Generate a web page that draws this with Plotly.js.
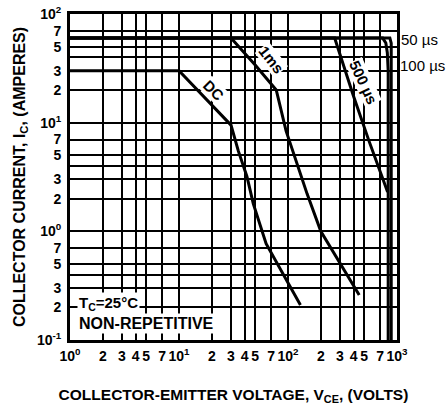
<!DOCTYPE html>
<html>
<head>
<meta charset="utf-8">
<script src="https://cdn.plot.ly/plotly-3.0.1.min.js"></script>
<style>html,body{margin:0;padding:0;background:#fff;}#chart{width:446px;height:405px;}</style>
</head>
<body>
<div id="chart"></div>
<script>
// Safe operating area curves (V_CE in volts, I_C in amperes)
const dcV   = [1, 10, 30, 35, 42, 48, 63, 130];
const dcI   = [30, 30, 9.5, 5.5, 3.2, 1.8, 0.77, 0.21];
const ms1V  = [1, 30, 50, 78, 96, 150, 200, 450];
const ms1I  = [60, 60, 34, 20, 8.4, 2.2, 1.0, 0.26];
const us500V = [1, 268, 398, 553, 820];
const us500I = [60, 60, 17.7, 6.8, 2.3];
const us100V = [1, 740, 790, 815, 830, 830];
const us100I = [60, 60, 54, 44, 30, 0.1];
const us50V  = [1, 860, 885, 885];
const us50I  = [60, 60, 54, 0.1];

const xTickVals = [1,2,3,4,5,7,10,20,30,40,50,70,100,200,300,400,500,700,1000];
const xTickText = ['10<sup>0</sup>','2','3','4','5','7','10<sup>1</sup>','2','3','4','5','7','10<sup>2</sup>','2','3','4','5','7','10<sup>3</sup>'];
const yTickVals = [0.1,0.2,0.3,0.5,0.7,1,2,3,5,7,10,20,30,50,70,100];
const yTickText = ['10<sup>-1</sup>','2','3','5','7','10<sup>0</sup>','2','3','5','7','10<sup>1</sup>','2','3','5','7','10<sup>2</sup>'];
const yMinorVals = [0.4, 4, 40];

const curveNames = ['DC','1ms','500µs','100µs','50µs'];
const curveX = [dcV, ms1V, us500V, us100V, us50V];
const curveY = [dcI, ms1I, us500I, us100I, us50I];

const FONT = 'Liberation Sans, Arial, Helvetica, sans-serif';

const traces = curveX.map((xs, i) => ({
  x: xs, y: curveY[i], name: curveNames[i], type: 'scatter', mode: 'lines',
  line: {color: '#000', width: 3}, hoverinfo: 'skip'
}));

const L = 70, R = 397, T = 14, B = 340;
const px = v => (v - L) / (R - L);
const py = v => (B - v) / (B - T);

const ann = (text, x, y, opts) => Object.assign({
  xref: 'paper', yref: 'paper', x: px(x), y: py(y), text: text, showarrow: false,
  xanchor: 'center', yanchor: 'middle',
  font: {family: FONT, size: 15, color: '#000', weight: 'bold'}
}, opts || {});

const layout = {
  width: 446, height: 405,
  margin: {l: 70, r: 49, t: 14, b: 65},
  paper_bgcolor: '#fff', plot_bgcolor: '#fff',
  showlegend: false,
  font: {family: FONT, color: '#000'},
  xaxis: {
    type: 'log', range: [0, 3], tickmode: 'array', tickvals: xTickVals, ticktext: xTickText,
    showgrid: true, gridcolor: '#000', gridwidth: 2, zeroline: false,
    showline: true, linecolor: '#000', linewidth: 3, mirror: true,
    ticks: '', tickfont: {family: FONT, size: 14, color: '#000', weight: 'bold'},
    ticklabelstandoff: 1,
    title: {text: 'COLLECTOR-EMITTER VOLTAGE, V<sub>CE</sub>, (VOLTS)', font: {family: FONT, size: 15.5, color: '#000', weight: 'bold'}, standoff: 28}
  },
  yaxis: {
    type: 'log', range: [-1, 2], tickmode: 'array', tickvals: yTickVals, ticktext: yTickText,
    showgrid: true, gridcolor: '#000', gridwidth: 2, zeroline: false,
    showline: true, linecolor: '#000', linewidth: 3, mirror: true,
    minor: {tickmode: 'array', tickvals: yMinorVals, showgrid: true, gridcolor: '#000', gridwidth: 2, ticks: ''},
    ticks: '', tickfont: {family: FONT, size: 14, color: '#000', weight: 'bold'},
    ticklabelstandoff: 3,
    title: {text: 'COLLECTOR CURRENT, I<sub>C</sub>, (AMPERES)', font: {family: FONT, size: 16, color: '#000', weight: 'bold'}, standoff: 8}
  },
  annotations: [
    ann('DC', 214, 90, {textangle: 45, bgcolor: '#fff', borderpad: 0}),
    ann('1ms', 271, 60, {textangle: 52, bgcolor: '#fff', borderpad: 0}),
    ann('500 µs', 364, 82, {textangle: 65, bgcolor: '#fff', borderpad: 0}),
    ann('50 µs', 399, 40, {xanchor: 'left', font: {family: FONT, size: 15, color: '#000'}}),
    ann('100 µs', 398, 66, {xanchor: 'left', font: {family: FONT, size: 15, color: '#000'}}),
    ann('T<sub>C</sub>=25°C', 77, 303, {xanchor: 'left', bgcolor: '#fff', borderpad: 1, font: {family: FONT, size: 15, color: '#000', weight: 'bold'}}),
    ann('NON-REPETITIVE', 77, 323, {xanchor: 'left', bgcolor: '#fff', borderpad: 1, font: {family: FONT, size: 16, color: '#000', weight: 'bold'}})
  ]
};

Plotly.newPlot('chart', traces, layout, {displayModeBar: false, staticPlot: true});
</script>
</body>
</html>
